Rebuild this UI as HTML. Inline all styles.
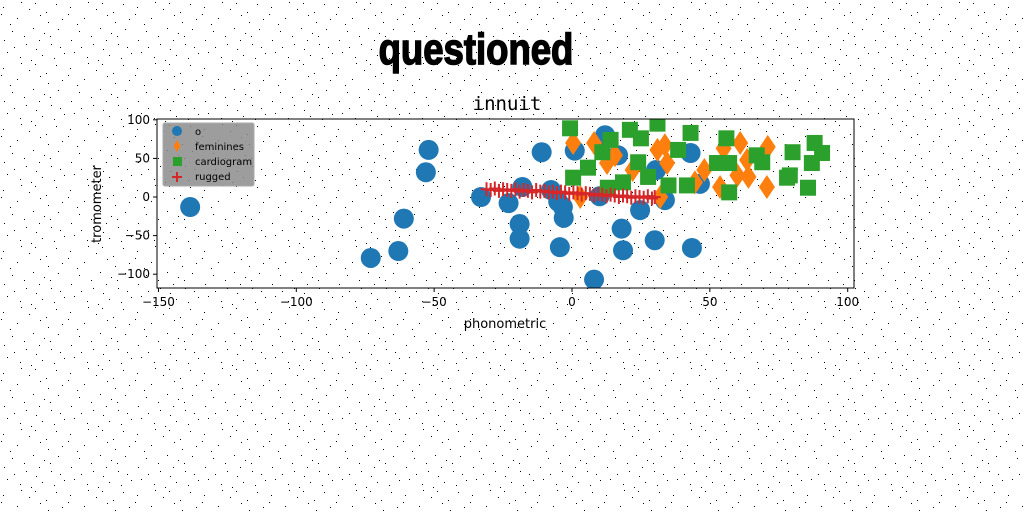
<!DOCTYPE html>
<html><head><meta charset="utf-8">
<style>
html,body{margin:0;padding:0;background:#fff;}
body{width:1024px;height:512px;overflow:hidden;position:relative;}
svg{position:absolute;left:0;top:0;}
</style></head>
<body>
<svg id="chart" width="1024" height="512" viewBox="0 0 1024 512">
  <defs>
    <pattern id="noise" width="67" height="61" patternUnits="userSpaceOnUse">
      <rect x="3" y="7" width="1" height="1" fill="#000"/><rect x="21" y="2" width="1" height="1" fill="#000"/>
      <rect x="40" y="15" width="1" height="1" fill="#000"/><rect x="56" y="4" width="1" height="1" fill="#000"/>
      <rect x="62" y="19" width="1" height="1" fill="#000"/><rect x="12" y="31" width="1" height="1" fill="#000"/>
      <rect x="33" y="28" width="1" height="1" fill="#000"/><rect x="50" y="36" width="1" height="1" fill="#000"/>
      <rect x="26" y="44" width="1" height="1" fill="#000"/><rect x="60" y="47" width="1" height="1" fill="#000"/>
      <rect x="7" y="52" width="1" height="1" fill="#000"/><rect x="42" y="55" width="1" height="1" fill="#000"/>
      <rect x="17" y="18" width="1" height="1" fill="#000"/><rect x="48" y="22" width="1" height="1" fill="#000"/>
      <rect x="29" y="9" width="1" height="1" fill="#000"/><rect x="4" y="40" width="1" height="1" fill="#000"/>
      <rect x="36" y="49" width="1" height="1" fill="#000"/><rect x="54" y="58" width="1" height="1" fill="#000"/>
      <rect x="20" y="57" width="1" height="1" fill="#000"/><rect x="46" y="12" width="1" height="1" fill="#000"/>
      <rect x="10" y="24" width="1" height="1" fill="#000"/><rect x="58" y="29" width="1" height="1" fill="#000"/>
      <rect x="24" y="36" width="1" height="1" fill="#000"/><rect x="39" y="40" width="1" height="1" fill="#000"/>
      <rect x="14" y="47" width="1" height="1" fill="#000"/><rect x="64" y="53" width="1" height="1" fill="#000"/>
      <rect x="31" y="60" width="1" height="1" fill="#000"/><rect x="1" y="14" width="1" height="1" fill="#000"/>
      <rect x="51" y="44" width="1" height="1" fill="#000"/><rect x="35" y="3" width="1" height="1" fill="#000"/>
      <rect x="8" y="61" width="1" height="1" fill="#000"/><rect x="44" y="33" width="1" height="1" fill="#000"/>
    </pattern>
  </defs>
  <rect width="1024" height="512" fill="#fff"/>
  <rect width="1024" height="512" fill="url(#noise)"/>
  <text x="476" y="64" text-anchor="middle" font-family="'Liberation Sans',sans-serif" font-weight="bold" font-size="44" transform="translate(476,0) scale(0.83,1) translate(-476,0)" stroke="#000" stroke-width="1.5" fill="#000">questioned</text>
  <text x="507" y="110" text-anchor="middle" font-family="'DejaVu Sans Mono','Liberation Mono',monospace" font-size="19" fill="#000">innuit</text>
  <g id="plot"></g>
  <rect x="157" y="119" width="697" height="169" fill="none" stroke="#000" stroke-width="1"/>
  <text x="505" y="328" text-anchor="middle" font-family="'DejaVu Sans',sans-serif" font-size="13">phonometric</text>
  <text x="101" y="204" text-anchor="middle" font-family="'DejaVu Sans',sans-serif" font-size="13" transform="rotate(-90 101 204)">tromometer</text>
  <g id="legend">
    <rect x="163" y="123" width="91" height="63" rx="2" fill="#8c8c8c" fill-opacity="0.85" stroke="#aaa"/>
    <circle cx="177" cy="131" r="5" fill="#1f77b4"/>
    <text x="195" y="135" font-family="'DejaVu Sans',sans-serif" font-size="10">o</text>
    <polygon points="177,140 180.5,146 177,152 173.5,146" fill="#ff7f0e"/>
    <text x="195" y="150" font-family="'DejaVu Sans',sans-serif" font-size="10">feminines</text>
    <rect x="173" y="157" width="9" height="9" fill="#2ca02c"/>
    <text x="195" y="165" font-family="'DejaVu Sans',sans-serif" font-size="10">cardiogram</text>
    <path d="M172 177h10M177 172v10" stroke="#d62728" stroke-width="2"/>
    <text x="195" y="180" font-family="'DejaVu Sans',sans-serif" font-size="10">rugged</text>
  </g>
</svg>
<script>
const xTicks=[-150,-100,-50,0,50,100];
const yTicks=[-100,-50,0,50,100];
const oX=[-138.5,-52,-53,-61,-73,-63,-33,-18,-23,-19,-19,-11,-7.6,-3.3,-3,-4.4,1,8,12,16.7,18,18.5,24.7,30,30.5,33.7,43,43.5,46.4,10,-5];
const oY=[-13,61,32,-28,-79,-70,0,13,-8,-35,-54,58,9,-13,-27,-65,60,-107,80,54,-41,-69,-17,-56,35,-4,57,-66,17,1,-6];
const fX=[0.4,8,12.7,15.6,22,31,33.7,34.5,32,3,44.6,48,53.7,55,61,63.5,64,71,70.7,60];
const fY=[70,70,44,54,35,61,67,44,0,0,19,35,13,63,70,48,26,65,13,28];
const cX=[-0.7,5.8,0.4,14,11,21,31,25,24,27.6,38.5,43,35,41.7,13,18.5,56,52.6,57,57,67,69,80,79,78,85.6,88,90.7,87];
const cY=[89,38,25,74,58,87,95,76,45,26,61,83,15,15,12,19,76,44,44,6,54,45,58,28,25,12,70,57,44];
const rX=[-31,-29.5,-28,-26.5,-25,-23.5,-22,-20.5,-19,-17.5,-16,-14.5,-13,-11.5,-10,-8.5,-7,-5.5,-4,-2.5,-1,0.5,2,3.5,5,6.5,8,9.5,11,12.5,14,15.5,17,18.5,20,21.5,23,24.5,26,27.5,29,30];
const rY=[10,9,11,8,10,9,8,10,7,9,8,6,9,7,8,6,7,5,7,6,4,6,5,3,5,4,2,4,3,1,3,2,0,2,1,-1,1,0,-1,1,-2,0];

const X0=157,X1=854,Y0=119,Y1=288;
const sx=v=>572+v*2.757;
const sy=v=>197-v*0.772;
const NS='http://www.w3.org/2000/svg';
const plot=document.getElementById('plot');
const svg=document.getElementById('chart');
function mk(t,a,p){const e=document.createElementNS(NS,t);for(const k in a)e.setAttribute(k,a[k]);(p||plot).appendChild(e);return e;}
const cp=mk('clipPath',{id:'clip'},svg.querySelector('defs'));
mk('rect',{x:X0,y:Y0,width:X1-X0,height:Y1-Y0},cp);
plot.setAttribute('clip-path','url(#clip)');
xTicks.forEach(t=>{
  const l=mk('line',{x1:sx(t),x2:sx(t),y1:288,y2:292,stroke:'#000'},svg);
  
  
  const tx=mk('text',{x:sx(t),y:306,'text-anchor':'middle','font-family':"'DejaVu Sans',sans-serif",'font-size':12},svg);
  tx.textContent=(t<0?'\u2212'+(-t):t);
  
  
});
yTicks.forEach(t=>{
  const l=mk('line',{x1:153,x2:157,y1:sy(t),y2:sy(t),stroke:'#000'},svg);
  
  
  const tx=mk('text',{x:150,y:sy(t)+4,'text-anchor':'end','font-family':"'DejaVu Sans',sans-serif",'font-size':12},svg);
  tx.textContent=(t<0?'\u2212'+(-t):t);
  
  
});
oX.forEach((v,i)=>{
  const c=mk('circle',{cx:sx(v),cy:sy(oY[i]),r:10,fill:'#1f77b4'});
  
  
});
fX.forEach((v,i)=>{
  const x=sx(v),y=sy(fY[i]);
  const p=mk('polygon',{points:`${x},${y-12} ${x+8},${y} ${x},${y+12} ${x-8},${y}`,fill:'#ff7f0e'});
  
  
});
cX.forEach((v,i)=>{
  const r=mk('rect',{x:sx(v)-8,y:sy(cY[i])-8,width:16,height:16,fill:'#2ca02c'});
  
  
});
rX.forEach((v,i)=>{
  const x=sx(v),y=sy(rY[i]);
  const p=mk('path',{d:`M${x-6} ${y}h12M${x} ${y-7}v14`,stroke:'#d62728','stroke-width':2});
  
  
});
</script>
</body></html>
